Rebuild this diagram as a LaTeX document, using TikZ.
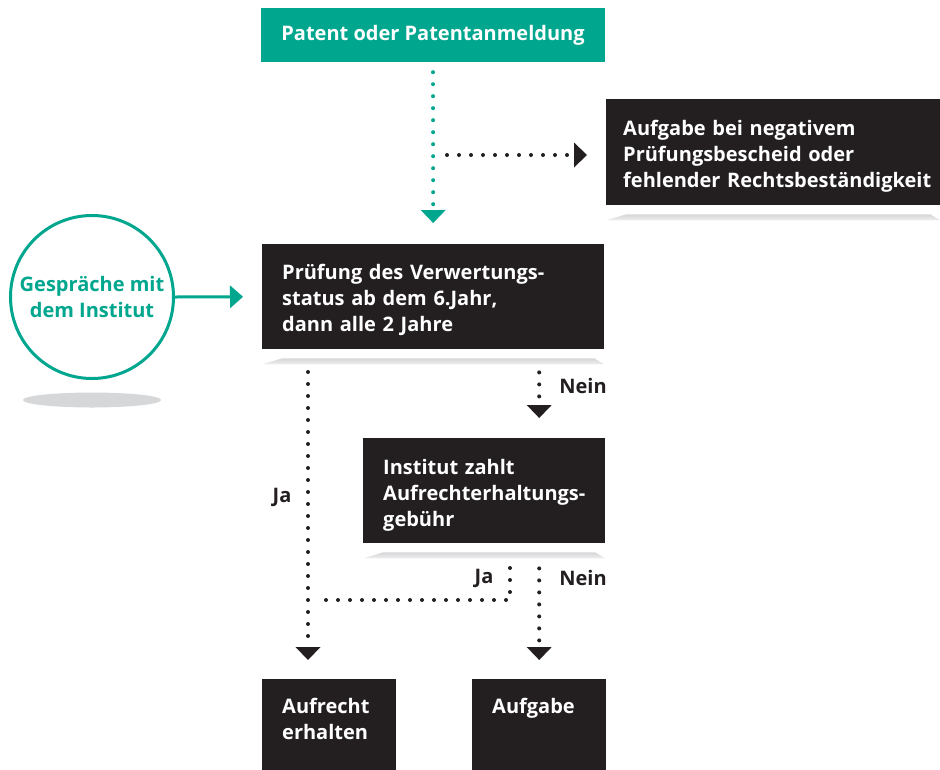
\documentclass[tikz,border=0pt]{standalone}
\usepackage{fontspec}
\setmainfont{Open Sans}
\usetikzlibrary{arrows.meta,shadings}

\definecolor{patgreen}{RGB}{0,166,142}
\definecolor{boxblack}{RGB}{35,31,32}
\definecolor{floorgray}{RGB}{214,215,217}

\newcommand{\boxshadow}[1]{%
  \shade[top color=floorgray, bottom color=floorgray!40]
    ([yshift=-15pt]#1.south west) -- ([xshift=20pt,yshift=-9pt]#1.south west)
    -- ([xshift=-10pt,yshift=-9pt]#1.south east) -- ([yshift=-15pt]#1.south east) -- cycle;}

\begin{document}
\begin{tikzpicture}[x=1pt,y=-1pt,
    txt/.style={font=\fontsize{20pt}{26pt}\selectfont\bfseries},
    box/.style={txt,fill=boxblack,text=white,align=left,anchor=north west,inner xsep=20pt,inner ysep=0pt},
    dots/.style={line width=4pt,line cap=round,dash pattern=on 0pt off 12pt,color=boxblack},
    tip/.style={-{Triangle[length=13pt,width=25pt,line width=0pt]}},
    label/.style={txt,text=boxblack}]
  \useasboundingbox (0,0) rectangle (940,769);

  % boxes
  \node[box,fill=patgreen,align=center,anchor=center,minimum width=342pt,minimum height=54pt] (patent) at (433,35) {Patent oder Patentanmeldung};
  \node[box,minimum width=334pt,minimum height=106pt,text width=300pt,inner xsep=17pt,text height=23.6pt,text depth=57pt] (negativ) at (606,99)
    {Aufgabe bei negativem\\Prüfungsbescheid oder\\\mbox{fehlender Rechtsbeständigkeit}};
  \node[box,minimum width=342pt,minimum height=105pt,text width=302pt,text height=22.6pt,text depth=57pt] (pruefung) at (262,244)
    {Prüfung des Verwertungs-\\status ab dem 6.Jahr,\\dann alle 2 Jahre};
  \node[box,minimum width=242pt,minimum height=105pt,text width=202pt,text height=24.6pt,text depth=57pt] (institut) at (363,438)
    {Institut zahlt\\\mbox{Aufrechterhaltungs-}\\gebühr};
  \node[box,minimum width=134pt,text width=94pt,inner ysep=19pt,text depth=60pt] (erhalten) at (262,679)
    {Aufrecht\\erhalten};
  \node[box,minimum width=134pt,text width=94pt,inner ysep=19pt,text depth=86pt] (aufgabe) at (472,679)
    {Aufgabe};
  \boxshadow{negativ}
  \boxshadow{pruefung}
  \boxshadow{institut}

  % talk circle
  \fill[floorgray] (92,400) ellipse [x radius=69pt,y radius=7.5pt];
  \node[txt,circle,draw=patgreen,line width=3pt,fill=white,text=patgreen,align=center,minimum size=163pt,inner sep=0pt] (talk) at (92,297)
    {Gespräche mit\\dem Institut};
  \draw[patgreen,line width=3pt,-{Triangle[length=13pt,width=23pt,line width=0pt]},shorten >=19pt] (talk.east) -- (pruefung.west);

  % connectors
  \draw[dots,patgreen,tip,shorten <=10pt,shorten >=21pt] (patent.south) -- (pruefung.north);
  \coordinate (branch) at (433,155);
  \draw[dots,tip,shorten <=14pt,shorten >=19pt] (branch) -- (branch -| negativ.west);

  \coordinate (jatop) at (308,349);
  \draw[dots,tip,shorten <=23pt,shorten >=19pt] (jatop) -- (jatop |- erhalten.north);
  \draw[dots,tip,shorten <=23pt,shorten >=20pt] (aufgabe.north |- pruefung.south) -- (aufgabe.north |- institut.north);

  \coordinate (jaright) at (510,543);
  \coordinate (jaleft) at (320,600);
  \draw[dots,shorten <=25pt] (jaright) -- (jaright |- jaleft) -- (jaleft);
  \draw[dots,tip,shorten <=25pt,shorten >=19pt] (aufgabe.north |- institut.south) -- (aufgabe.north);

  % labels
  \node[label] (ja1) at (282,497) {Ja};
  \node[label] (nein1) at (583,386) {Nein};
  \node[label] (ja2) at (484,578) {Ja};
  \node[label] (nein2) at (583,578) {Nein};
\end{tikzpicture}
\end{document}
